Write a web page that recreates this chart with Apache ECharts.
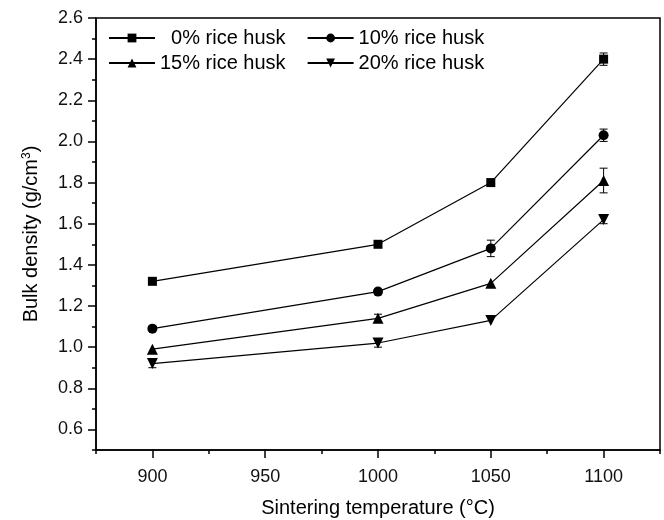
<!DOCTYPE html>
<html>
<head>
<meta charset="utf-8">
<script src="https://cdn.jsdelivr.net/npm/echarts@6/dist/echarts.min.js"></script>
<style>
  html, body { margin: 0; padding: 0; background: #fff; }
  #chart { width: 664px; height: 520px; }
</style>
</head>
<body>
<div id="chart"></div>
<script>
// sintering temperatures (°C)
const temperatures = [900, 1000, 1050, 1100]

// bulk density (g/cm3) per rice husk content
const husk0 = [1.32, 1.50, 1.80, 2.40]
const husk10 = [1.09, 1.27, 1.48, 2.03]
const husk15 = [0.99, 1.14, 1.31, 1.81]
const husk20 = [0.92, 1.02, 1.13, 1.62]

// error bar half widths
const err0 = [0, 0, 0, 0.03]
const err10 = [0.01, 0.01, 0.04, 0.03]
const err15 = [0, 0.02, 0, 0.06]
const err20 = [0.02, 0.02, 0, 0.02]

const seriesNames = ['0% rice husk', '10% rice husk', '15% rice husk', '20% rice husk']

const xLabels = [900, 950, 1000, 1050, 1100]
const yLabels = [0.6, 0.8, 1.0, 1.2, 1.4, 1.6, 1.8, 2.0, 2.2, 2.4, 2.6]

const font = 'Liberation Sans, Arial, Helvetica, sans-serif'

const chart = echarts.init(document.getElementById('chart'))

const pairs = (vals) => temperatures.map((t, i) => [t, vals[i]])
const errPairs = (vals, errs) => temperatures.map((t, i) => [t, vals[i], errs[i]])

const renderErr = (params, api) => {
  const e = api.value(2)
  if (!e) return null
  const x = api.value(0)
  const y = api.value(1)
  const lo = api.coord([x, y - e])
  const hi = api.coord([x, y + e])
  const cap = 4
  const style = { stroke: '#000', lineWidth: 1 }
  return {
    type: 'group',
    children: [
      { type: 'line', shape: { x1: lo[0], y1: lo[1], x2: hi[0], y2: hi[1] }, style },
      { type: 'line', shape: { x1: lo[0] - cap, y1: lo[1], x2: lo[0] + cap, y2: lo[1] }, style },
      { type: 'line', shape: { x1: hi[0] - cap, y1: hi[1], x2: hi[0] + cap, y2: hi[1] }, style }
    ]
  }
}

const lineSeries = (name, vals, symbol, size) => ({
  name,
  type: 'line',
  data: pairs(vals),
  symbol,
  symbolSize: size,
  showAllSymbol: true,
  lineStyle: { color: '#000', width: 1.2 },
  itemStyle: { color: '#000' },
  emphasis: { disabled: true },
  z: 3
})

const errSeries = (vals, errs) => ({
  type: 'custom',
  data: errPairs(vals, errs),
  renderItem: renderErr,
  encode: { x: 0, y: 1 },
  silent: true,
  z: 2
})

const legendBase = {
  left: 108,
  padding: 0,
  itemWidth: 46,
  itemHeight: 11,
  itemGap: 21,
  textStyle: { fontFamily: font, fontSize: 20, color: '#000' },
  formatter: (name) => (name === '0% rice husk' ? '\u2007' + name : name)
}

const option = {
  animation: false,
  backgroundColor: '#fff',
  textStyle: { fontFamily: font },
  grid: {
    left: 96,
    right: 4,
    top: 18,
    bottom: 70,
    outerBoundsMode: 'none',
    show: true,
    borderColor: '#000',
    borderWidth: 1.5,
    backgroundColor: 'transparent'
  },
  legend: [
    Object.assign({}, legendBase, { top: 28, data: [seriesNames[0], seriesNames[1]] }),
    Object.assign({}, legendBase, { top: 53, data: [seriesNames[2], seriesNames[3]] })
  ],
  xAxis: [
    {
      type: 'value',
      position: 'bottom',
      min: 875,
      max: 1125,
      interval: 25,
      name: 'Sintering temperature (°C)',
      nameLocation: 'middle',
      nameGap: 48,
      nameTextStyle: { fontFamily: font, fontSize: 20, color: '#000' },
      axisLine: { lineStyle: { color: '#000', width: 1.5 } },
      axisTick: { show: true, inside: false, length: 4, lineStyle: { color: '#000', width: 1.5 } },
      axisLabel: {
        customValues: xLabels,
        formatter: (v) => String(v),
        margin: 18,
        fontFamily: font,
        fontSize: 18,
        color: '#111'
      },
      splitLine: { show: false }
    },
    {
      type: 'value',
      position: 'bottom',
      min: 875,
      max: 1125,
      axisLine: { show: false },
      axisTick: { show: true, customValues: xLabels, length: 8, lineStyle: { color: '#000', width: 1.5 } },
      axisLabel: { show: false },
      splitLine: { show: false }
    }
  ],
  yAxis: [
    {
      type: 'value',
      position: 'left',
      min: 0.5,
      max: 2.6,
      interval: 0.1,
      name: 'Bulk density (g/cm{sup|3})',
      nameLocation: 'middle',
      nameGap: 55,
      nameTextStyle: {
        fontFamily: font,
        fontSize: 20,
        color: '#000',
        rich: {
          sup: { fontFamily: font, fontSize: 12, color: '#000', verticalAlign: 'top', lineHeight: 20 }
        }
      },
      axisLine: { lineStyle: { color: '#000', width: 1.5 } },
      axisTick: { show: true, inside: false, length: 4, lineStyle: { color: '#000', width: 1.5 } },
      axisLabel: {
        customValues: yLabels,
        formatter: (v) => v.toFixed(1),
        margin: 13,
        fontFamily: font,
        fontSize: 18,
        color: '#111'
      },
      splitLine: { show: false }
    },
    {
      type: 'value',
      position: 'left',
      min: 0.5,
      max: 2.6,
      axisLine: { show: false },
      axisTick: { show: true, customValues: yLabels, length: 8, lineStyle: { color: '#000', width: 1.5 } },
      axisLabel: { show: false },
      splitLine: { show: false }
    }
  ],
  series: [
    errSeries(husk0, err0),
    errSeries(husk10, err10),
    errSeries(husk15, err15),
    errSeries(husk20, err20),
    lineSeries(seriesNames[0], husk0, 'rect', 9),
    lineSeries(seriesNames[1], husk10, 'circle', 10),
    lineSeries(seriesNames[2], husk15, 'triangle', 11),
    lineSeries(seriesNames[3], husk20, 'path://M0,0L10,0L5,9Z', 11)
  ]
}

chart.setOption(option)
</script>
</body>
</html>
